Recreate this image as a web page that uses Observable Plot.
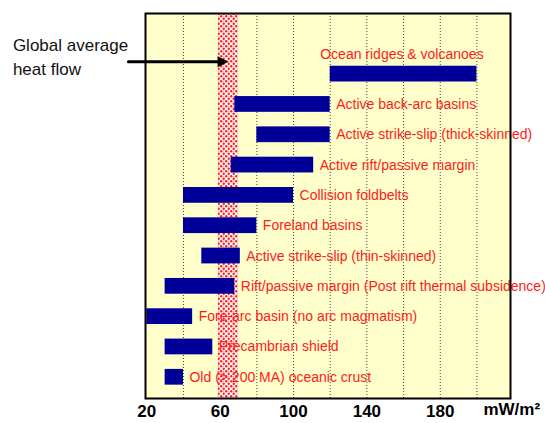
<!DOCTYPE html>
<html>
<head>
<meta charset="utf-8">
<script src="https://cdn.jsdelivr.net/npm/d3@7"></script>
<script src="https://cdn.jsdelivr.net/npm/@observablehq/plot@0.6"></script>
<style>
  html, body { margin: 0; padding: 0; background: white; }
</style>
</head>
<body>
<svg width="0" height="0" style="position:absolute">
  <defs>
    <pattern id="stipple" width="5" height="5" patternUnits="userSpaceOnUse">
      <rect width="5" height="5" fill="#ffffff"></rect>
      <circle cx="1.2" cy="1.2" r="1.2" fill="#ff2020"></circle>
      <circle cx="3.7" cy="3.7" r="1.2" fill="#ff2020"></circle>
      <circle cx="3.8" cy="1.1" r="0.55" fill="#ff6060"></circle>
    </pattern>
  </defs>
</svg>
<div id="chart"></div>
<script>
// Data
const categories = [
  "Ocean ridges & volcanoes",
  "Active back-arc basins",
  "Active strike-slip (thick-skinned)",
  "Active rift/passive margin",
  "Collision foldbelts",
  "Foreland basins",
  "Active strike-slip (thin-skinned)",
  "Rift/passive margin (Post rift thermal subsidence)",
  "Fore-arc basin (no arc magmatism)",
  "Precambrian shield",
  "Old (> 200 MA) oceanic crust"
];
const lowValues  = [120, 68, 80, 66, 40, 40, 50, 30, 20, 30, 30];
const highValues = [200, 120, 120, 111, 100, 80, 71, 68, 45, 56, 40];
const tickValues = [20, 60, 100, 140, 180];
const gridValues = [40, 60, 80, 100, 120, 140, 160, 180, 200];
const unitLabel = "mW/m²";
const globalAverageBand = [59, 70];
const annotationText = "Global average\nheat flow";

const rows = categories.map((name, i) => ({name, i, lo: lowValues[i], hi: highValues[i]}));
const band = [{x1: globalAverageBand[0], x2: globalAverageBand[1]}];
const xDomain = [19.3, 218.3];
const yDomain = [10.7, -2];
const half = 0.26;

const arrowY = -0.41;
const arrowShaft = [{x: 10, y: arrowY}, {x: 60, y: arrowY}];
const arrowTip = [{x: 64.6, y: arrowY}];
const rightTriangle = {
  draw(context) {
    context.moveTo(0, 0);
    context.lineTo(-11, -5.5);
    context.lineTo(-11, 5.5);
    context.closePath();
  }
};

const plot = Plot.plot({
  width: 545,
  height: 423,
  marginLeft: 145,
  marginRight: 35,
  marginTop: 13,
  marginBottom: 25,
  style: {fontFamily: "'Liberation Sans', Arial, Helvetica, sans-serif", background: "white", overflow: "visible"},
  x: {domain: xDomain, axis: null},
  y: {domain: yDomain, axis: null},
  marks: [
    Plot.frame({fill: "#ffffcc"}),
    Plot.ruleX(gridValues, {stroke: "#444", strokeWidth: 1, strokeDasharray: "1,2"}),
    Plot.rect(band, {x1: "x1", x2: "x2", fill: "url(#stipple)"}),
    Plot.rect(rows, {x1: "lo", x2: "hi", y1: d => d.i - half, y2: d => d.i + half, fill: "#000099"}),
    Plot.text(rows.filter(d => d.i > 0), {x: "hi", y: "i", text: "name", dx: 6, textAnchor: "start", fill: "#ff1a1a", fontSize: 14}),
    Plot.text(rows.filter(d => d.i === 0), {x: "lo", y: "i", text: "name", dx: -10, dy: -19.5, textAnchor: "start", fill: "#ff1a1a", fontSize: 14}),
    Plot.frame({stroke: "black", strokeWidth: 2}),
    Plot.line(arrowShaft, {x: "x", y: "y", stroke: "black", strokeWidth: 3}),
    Plot.dot(arrowTip, {x: "x", y: "y", symbol: rightTriangle, fill: "black", stroke: "none"}),
    Plot.text([annotationText], {x: -53, y: -0.62, text: d => d, textAnchor: "start", lineHeight: 1.38, fontSize: 17, fill: "#111"}),
    Plot.text(tickValues, {x: d => d, frameAnchor: "bottom", dy: 18, text: d => String(d), fontSize: 17, fontWeight: "bold", fill: "black"}),
    Plot.text([unitLabel], {x: 219, frameAnchor: "bottom", dy: 16, text: d => d, fontSize: 17, fontWeight: "bold", fill: "black"})
  ]
});
document.getElementById("chart").appendChild(plot);
</script>
</body>
</html>
